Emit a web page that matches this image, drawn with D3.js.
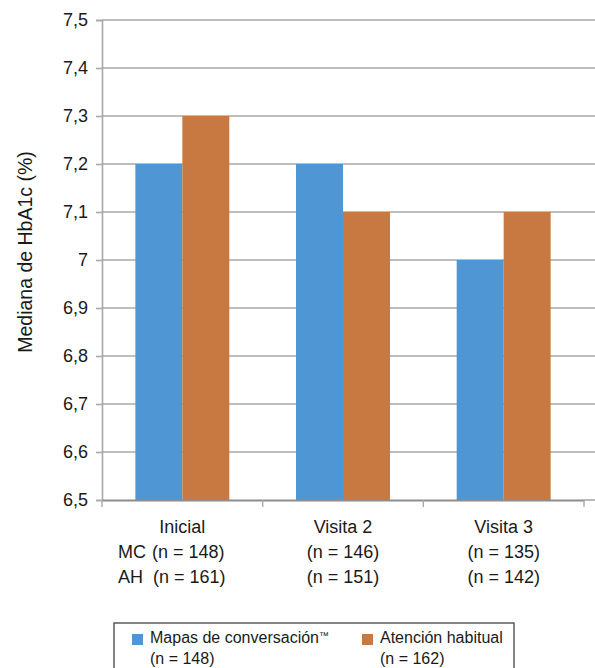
<!DOCTYPE html>
<html>
<head>
<meta charset="utf-8">
<script src="https://cdn.jsdelivr.net/npm/d3@7"></script>
<style>
  html, body { margin: 0; padding: 0; background: #fff; }
  svg text { font-family: "Liberation Sans", Arial, Helvetica, sans-serif; fill: #1a1a1a; }
</style>
</head>
<body>
<svg id="chart" width="595" height="668"></svg>
<script>
// Median HbA1c by visit and group
const categories = ["Inicial", "Visita 2", "Visita 3"];
const seriesNames = ["Mapas de conversación", "Atención habitual"];
const seriesMarks = ["™", ""];
const mcValues = [7.2, 7.2, 7.0];
const ahValues = [7.3, 7.1, 7.1];
const mcCounts = ["(n = 148)", "(n = 146)", "(n = 135)"];
const ahCounts = ["(n = 161)", "(n = 151)", "(n = 142)"];
const legendCounts = ["(n = 148)", "(n = 162)"];
const yTicks = [6.5, 6.6, 6.7, 6.8, 6.9, 7.0, 7.1, 7.2, 7.3, 7.4, 7.5];
const colors = ["#4F96D4", "#C87942"];

const svg = d3.select("#chart");
const plotLeft = 102, plotRight = 584, plotTop = 20, plotBottom = 500;

const x = d3.scaleBand().domain(categories).range([plotLeft, plotRight]).paddingInner(0).paddingOuter(0);
const inner = d3.scaleBand().domain([0, 1]).range([0, x.bandwidth()]).paddingInner(0).paddingOuter(0.71);
const y = d3.scaleLinear().domain([6.5, 7.5]).range([plotBottom, plotTop]);

const fmt = v => (Math.round(v * 10) / 10).toString().replace(".", ",");

// horizontal gridlines
svg.append("g").selectAll("line").data(yTicks.slice(1)).join("line")
  .attr("x1", plotLeft).attr("x2", 595)
  .attr("y1", d => y(d)).attr("y2", d => y(d))
  .attr("stroke", "#a8a8a8").attr("stroke-width", 1.6);

// bars
const rows = categories.map((c, i) => ({ c, vals: [mcValues[i], ahValues[i]] }));
svg.append("g").selectAll("g").data(rows).join("g")
  .attr("transform", d => `translate(${x(d.c)},0)`)
  .selectAll("rect").data(d => d.vals.map((v, k) => ({ v, k }))).join("rect")
  .attr("x", d => inner(d.k))
  .attr("width", inner.bandwidth())
  .attr("y", d => y(d.v))
  .attr("height", d => y(6.5) - y(d.v))
  .attr("fill", d => colors[d.k]);

// y axis
const yAxis = d3.axisLeft(y).tickValues(yTicks).tickFormat(fmt).tickSize(6).tickPadding(8);
const gy = svg.append("g").attr("transform", `translate(${plotLeft},0)`).call(yAxis);
gy.select(".domain").attr("stroke", "#a8a8a8").attr("stroke-width", 1.6);
gy.selectAll(".tick line").attr("stroke", "#a8a8a8").attr("stroke-width", 1.6);
gy.selectAll(".tick text").attr("font-size", 18).attr("fill", "#1a1a1a")
  .style("font-family", "'Liberation Sans', Arial, sans-serif");

// x axis baseline with category separators
const xAxis = d3.axisBottom(x).tickSize(0).tickFormat("");
const gx = svg.append("g").attr("transform", `translate(0,${plotBottom})`).call(xAxis);
gx.select(".domain").attr("stroke", "#8c8c8c").attr("stroke-width", 1.8);
gx.selectAll(".tick").remove();
const seps = [plotLeft, ...categories.map(c => x(c) + x.bandwidth())];
gx.selectAll("line.sep").data(seps).join("line").attr("class", "sep")
  .attr("x1", d => d).attr("x2", d => d).attr("y1", 0).attr("y2", 7)
  .attr("stroke", "#a8a8a8").attr("stroke-width", 1.4);
svg.append("line").attr("x1", plotRight).attr("x2", 595).attr("y1", plotBottom).attr("y2", plotBottom)
  .attr("stroke", "#a8a8a8").attr("stroke-width", 1.6);

// category labels
const labels = svg.append("g").attr("font-size", 18);
categories.forEach((c, i) => {
  const cx = x(c) + x.bandwidth() / 2;
  labels.append("text").attr("x", cx).attr("y", 533).attr("text-anchor", "middle").text(c);
  labels.append("text").attr("x", cx + (i === 0 ? 6 : 0)).attr("y", 558).attr("text-anchor", "middle").text(mcCounts[i]);
  labels.append("text").attr("x", cx + (i === 0 ? 7 : 0)).attr("y", 583).attr("text-anchor", "middle").text(ahCounts[i]);
});
const c0 = x(categories[0]);
labels.append("text").attr("x", c0 + 16).attr("y", 558).text("MC");
labels.append("text").attr("x", c0 + 16).attr("y", 583).text("AH");

// y axis title
svg.append("text")
  .attr("transform", `translate(31.5,252) rotate(-90)`)
  .attr("text-anchor", "middle").attr("font-size", 19.5)
  .text("Mediana de HbA1c (%)");

// legend
const lg = svg.append("g");
lg.append("rect").attr("x", 114).attr("y", 623).attr("width", 400).attr("height", 60)
  .attr("fill", "none").attr("stroke", "#333").attr("stroke-width", 1.2);
const lx = [132, 362];
seriesNames.forEach((n, k) => {
  lg.append("rect").attr("x", lx[k]).attr("y", 634).attr("width", 11).attr("height", 11).attr("fill", colors[k]);
  const t = lg.append("text").attr("x", lx[k] + 18).attr("y", 643).attr("font-size", 16).text(n);
  if (seriesMarks[k]) t.append("tspan").attr("font-size", 10).attr("dy", -4).text(seriesMarks[k]);
  lg.append("text").attr("x", lx[k] + 18).attr("y", 664).attr("font-size", 16).text(legendCounts[k]);
});
</script>
</body>
</html>
